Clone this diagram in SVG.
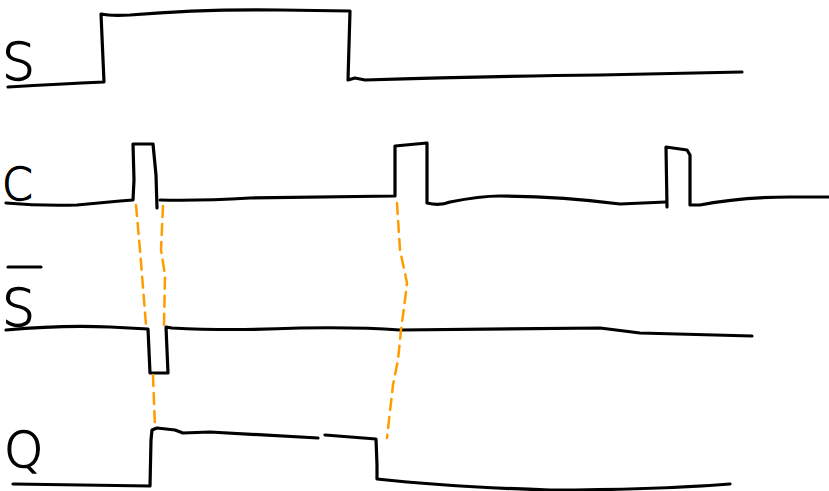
<svg xmlns="http://www.w3.org/2000/svg" width="829" height="491" viewBox="0 0 829 491">
<style>
.sig{fill:none;stroke:#000;stroke-width:3.2;stroke-linecap:round;stroke-linejoin:round}
.dash{fill:none;stroke:#ff9c00;stroke-width:2.5;stroke-dasharray:11 7;stroke-linecap:round}
.lbl{font-family:"DejaVu Sans","Liberation Sans",sans-serif;font-weight:200;fill:#000;stroke:#000;stroke-width:1.3}
</style>
<rect width="829" height="491" fill="#fff"/>
<g id="signal-S">
<text class="lbl" x="2" y="80" font-size="52">S</text>
<path class="sig" d="M8,87 Q60,84 104,82 L101,14 Q110,16 130,15 Q200,9 280,10 L350,11 L348,80 L355,78 L365,80 Q500,76 600,75 L742,72"/>
</g>
<g id="signal-C">
<text class="lbl" x="2" y="200" font-size="44">C</text>
<path class="sig" d="M6,203 Q40,206 77,205 L120,201 L133,200 L134,180 L133,144 L153,144 L156,175 L157,208"/>
<path class="sig" d="M160,200 Q200,201 250,198 L395,196 L395,146 L427,143 L427,203 Q440,206 450,202 Q480,196 500,196 Q560,196 620,204 L666,202"/>
<path class="sig" d="M667,207 L666,147 L687,150 L690,155 L690,205 L700,205 Q740,197 790,197 L829,197"/>
</g>
<g id="signal-Sbar">
<text class="lbl" x="2" y="326" font-size="52">S</text>
<line class="sig" x1="8" y1="267" x2="41" y2="267"/>
<path class="sig" d="M6,330 Q60,325 110,327 L148,329 L150,373 L168,373 L166,327 L172,328 Q230,331 300,328 Q360,327 400,330 L600,328 L640,333 L752,336"/>
</g>
<g id="signal-Q">
<text class="lbl" x="4" y="467" font-size="50">Q</text>
<path class="sig" d="M13,484 L150,486 L151,440 L152,430 L157,428 L175,430 L183,433 L210,432 L318,438"/>
<path class="sig" d="M325,435 L376,439 L377,465 L377,479 Q450,487 550,490 Q650,490 730,484"/>
</g>
<g id="connectors">
<path class="dash" d="M136,205 L140,250 L146,325"/>
<path class="dash" d="M153,375 L155,428"/>
<path class="dash" d="M163,206 L161,250 L165,275 L164,325"/>
<path class="dash" d="M397,203 L400,250 L407,283 L405,300 L401,330 L398,360 L393,385 L387,438"/>
</g>
</svg>
